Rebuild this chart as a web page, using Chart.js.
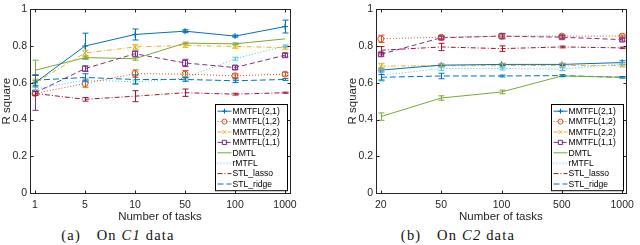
<!DOCTYPE html>
<html>
<head>
<meta charset="utf-8">
<script src="https://cdn.jsdelivr.net/npm/chart.js@4.4.1/dist/chart.umd.min.js"></script>
<style>
  body { margin: 0; background: #fff; width: 640px; height: 245px; position: relative; overflow: hidden; }
  .panel { position: absolute; top: 0; }
  .cap { position: absolute; top: 227px; width: 200px; text-align: center; font-family: "Liberation Serif", "Times New Roman", serif; font-size: 14.5px; letter-spacing: 1.2px; color: #111; white-space: nowrap; }
  .cap i { font-style: italic; }
</style>
</head>
<body>
<canvas id="chartC1" class="panel" width="320" height="225" style="left:0"></canvas>
<canvas id="chartC2" class="panel" width="320" height="225" style="left:320px"></canvas>
<div class="cap" style="left:18px">(a)&emsp;On <i>C1</i> data</div>
<div class="cap" style="left:358px">(b)&emsp;On <i>C2</i> data</div>
<script>
// Data
const tasksC1 = ['1', '5', '10', '50', '100', '1000'];
const tasksC2 = ['20', '50', '100', '500', '1000'];
const yTicks = [0, 0.2, 0.4, 0.6, 0.8, 1];
const seriesNames = ['MMTFL(2,1)', 'MMTFL(1,2)', 'MMTFL(2,2)', 'MMTFL(1,1)', 'DMTL', 'rMTFL', 'STL_lasso', 'STL_ridge'];

// C1 data: mean R square and error bar half-heights
const c1Mmtfl21 = [0.600, 0.800, 0.863, 0.881, 0.854, 0.906];
const c1Mmtfl12 = [0.542, 0.596, 0.650, 0.647, 0.638, 0.647];
const c1Mmtfl22 = [0.600, 0.762, 0.795, 0.803, 0.798, 0.791];
const c1Mmtfl11 = [0.545, 0.677, 0.758, 0.708, 0.683, 0.750];
const c1Dmtl    = [0.668, 0.737, 0.731, 0.816, 0.812, 0.839];
const c1Rmtfl   = [0.565, 0.615, 0.605, 0.625, 0.731, 0.800];
const c1Lasso   = [0.542, 0.510, 0.527, 0.546, 0.538, 0.546];
const c1Ridge   = [0.614, 0.629, 0.618, 0.618, 0.611, 0.618];

const c1ErrMmtfl21 = [0.040, 0.070, 0.030, 0.008, 0.006, 0.035];
const c1ErrMmtfl12 = [0.010, 0.020, 0.020, 0.020, 0.010, 0.010];
const c1ErrMmtfl22 = [0.020, 0.015, 0.012, 0.010, 0.010, 0.008];
const c1ErrMmtfl11 = [0.095, 0.015, 0.015, 0.020, 0.010, 0.010];
const c1ErrDmtl    = [0.055, 0.008, 0.008, 0.005, 0.005, 0];
const c1ErrRmtfl   = [0.010, 0.010, 0.010, 0.010, 0.008, 0.006];
const c1ErrLasso   = [0.010, 0.010, 0.030, 0.020, 0.005, 0.003];
const c1ErrRidge   = [0.030, 0.020, 0.025, 0.010, 0.010, 0.005];

// C2 data
const c2Mmtfl21 = [0.669, 0.696, 0.700, 0.700, 0.710];
const c2Mmtfl12 = [0.839, 0.848, 0.854, 0.854, 0.854];
const c2Mmtfl22 = [0.691, 0.693, 0.693, 0.695, 0.693];
const c2Mmtfl11 = [0.755, 0.845, 0.854, 0.848, 0.835];
const c2Dmtl    = [0.416, 0.517, 0.550, 0.637, 0.630];
const c2Rmtfl   = [0.640, 0.678, 0.678, 0.674, 0.703];
const c2Lasso   = [0.777, 0.795, 0.786, 0.795, 0.790];
const c2Ridge   = [0.630, 0.637, 0.637, 0.639, 0.630];

const c2ErrMmtfl21 = [0.010, 0.006, 0.006, 0.006, 0.010];
const c2ErrMmtfl12 = [0.020, 0.008, 0.010, 0.006, 0.006];
const c2ErrMmtfl22 = [0.015, 0.008, 0.010, 0.008, 0.006];
const c2ErrMmtfl11 = [0.010, 0.008, 0.015, 0.008, 0.008];
const c2ErrDmtl    = [0.020, 0.012, 0.010, 0.004, 0.004];
const c2ErrRmtfl   = [0.030, 0.010, 0.008, 0.008, 0.006];
const c2ErrLasso   = [0.020, 0.020, 0.015, 0.005, 0.004];
const c2ErrRidge   = [0.015, 0.015, 0.005, 0.005, 0.004];

// Styles (MATLAB default colour order)
const seriesColors = ['#0072BD', '#D95319', '#EDB120', '#7E2F8E', '#77AC30', '#4DBEEE', '#A2142F', '#0072BD'];
const seriesDash = [[], [1, 2], [5, 2, 1, 2], [5, 3], [], [1, 2], [5, 2, 1, 2], [6, 3]];
const seriesMarker = ['cross', 'circle', 'crossRot', 'rect', false, false, false, false];

const axisColor = '#262626';
Chart.defaults.font.family = '"Liberation Sans", Arial, sans-serif';
Chart.defaults.color = axisColor;

function buildDatasets(values, errors) {
    return values.map((vals, k) => ({
        label: seriesNames[k],
        data: vals.map((v, i) => ({ x: i, y: v })),
        errors: errors[k],
        borderColor: seriesColors[k],
        backgroundColor: 'rgba(0,0,0,0)',
        borderWidth: 1,
        borderDash: seriesDash[k],
        pointStyle: seriesMarker[k] || 'circle',
        pointRadius: seriesMarker[k] ? (seriesMarker[k] === 'rect' ? 3.5 : 3) : 0,
        pointBorderWidth: 1,
        pointBorderColor: seriesColors[k],
        pointBackgroundColor: 'rgba(0,0,0,0)',
        tension: 0,
        fill: false
    }));
}

// error bars, drawn through the chart scales
const errorBars = {
    id: 'errorBars',
    afterDatasetsDraw(chart) {
        const { ctx, scales: { x, y } } = chart;
        ctx.save();
        ctx.lineWidth = 1;
        ctx.setLineDash([]);
        chart.data.datasets.forEach(ds => {
            if (!ds.errors) return;
            ctx.strokeStyle = ds.borderColor;
            ds.data.forEach((p, i) => {
                const e = ds.errors[i];
                if (!e) return;
                const px = Math.round(x.getPixelForValue(p.x)) + 0.5;
                const yHi = y.getPixelForValue(p.y + e);
                const yLo = y.getPixelForValue(p.y - e);
                ctx.beginPath();
                ctx.moveTo(px, yHi); ctx.lineTo(px, yLo);
                ctx.moveTo(px - 3, yHi); ctx.lineTo(px + 3, yHi);
                ctx.moveTo(px - 3, yLo); ctx.lineTo(px + 3, yLo);
                ctx.stroke();
            });
        });
        ctx.restore();
    }
};

// box with inward ticks + legend inside the axes
const matlabAxes = {
    id: 'matlabAxes',
    afterDraw(chart) {
        const { ctx, chartArea: a, scales: { x, y } } = chart;
        const L = Math.round(a.left) + 0.5, R = Math.round(a.right) + 0.5;
        const T = Math.round(a.top) + 0.5, B = Math.round(a.bottom) + 0.5;
        ctx.save();
        ctx.strokeStyle = axisColor;
        ctx.lineWidth = 1;
        ctx.setLineDash([]);
        ctx.strokeRect(L, T, R - L, B - T);
        ctx.beginPath();
        y.ticks.forEach(t => {
            const py = Math.round(y.getPixelForValue(t.value)) + 0.5;
            ctx.moveTo(L, py); ctx.lineTo(L + 3, py);
            ctx.moveTo(R, py); ctx.lineTo(R - 3, py);
        });
        x.ticks.forEach(t => {
            const px = Math.round(x.getPixelForValue(t.value)) + 0.5;
            ctx.moveTo(px, B); ctx.lineTo(px, B - 3);
            ctx.moveTo(px, T); ctx.lineTo(px, T + 3);
        });
        ctx.stroke();

        // legend
        const rowH = 10.4, w = 72, h = rowH * 8 + 3;
        const x0 = Math.round(R - 4 - w) + 0.5, y0 = Math.round(B - 3 - h) + 0.5;
        ctx.fillStyle = '#fff';
        ctx.fillRect(x0, y0, w, h);
        ctx.strokeStyle = '#000';
        ctx.strokeRect(x0, y0, w, h);
        ctx.font = '8.6px "Liberation Sans", Arial, sans-serif';
        ctx.textBaseline = 'middle';
        chart.data.datasets.forEach((ds, k) => {
            const cy = y0 + 1.5 + rowH * (k + 0.5);
            ctx.strokeStyle = ds.borderColor;
            ctx.setLineDash(ds.borderDash);
            ctx.beginPath();
            ctx.moveTo(x0 + 2, cy); ctx.lineTo(x0 + 16, cy);
            ctx.stroke();
            ctx.setLineDash([]);
            if (ds.pointRadius > 0) {
                ctx.fillStyle = 'rgba(0,0,0,0)';
                Chart.helpers.drawPoint(ctx, { pointStyle: ds.pointStyle, radius: ds.pointRadius - 0.5, borderWidth: 1, rotation: 0 }, x0 + 9, cy);
            }
            ctx.fillStyle = '#000';
            ctx.fillText(ds.label, x0 + 17, cy + 0.5);
        });
        ctx.restore();
    }
};

function makeChart(id, labels, datasets, pad, yWidth, xMin, xMax) {
    return new Chart(document.getElementById(id), {
        type: 'line',
        data: { datasets },
        options: {
            responsive: false,
            animation: false,
            devicePixelRatio: 1,
            layout: { padding: pad },
            plugins: { legend: { display: false }, tooltip: { enabled: false } },
            scales: {
                x: {
                    type: 'linear',
                    min: xMin,
                    max: xMax,
                    afterBuildTicks: s => { s.ticks = labels.map((_, i) => ({ value: i })); },
                    afterFit: s => { s.height = 32; },
                    grid: { display: false, drawTicks: false },
                    border: { display: false },
                    ticks: { padding: 6, font: { size: 10.5 }, color: axisColor, callback: v => labels[v], autoSkip: false, maxRotation: 0 },
                    title: { display: true, text: 'Number of tasks', font: { size: 11.5 }, color: axisColor, padding: { top: 0, bottom: 1 } }
                },
                y: {
                    min: 0,
                    max: 1,
                    afterBuildTicks: s => { s.ticks = yTicks.map(v => ({ value: v })); },
                    afterFit: s => { s.width = yWidth; },
                    grid: { display: false, drawTicks: false },
                    border: { display: false },
                    ticks: { padding: 3, font: { size: 10.5 }, color: axisColor, callback: v => String(v) },
                    title: { display: true, text: 'R square', font: { size: 11.5 }, color: axisColor, padding: { top: 0, bottom: 0 } }
                }
            }
        },
        plugins: [errorBars, matlabAxes]
    });
}

let chartC1 = makeChart('chartC1', tasksC1,
    buildDatasets([c1Mmtfl21, c1Mmtfl12, c1Mmtfl22, c1Mmtfl11, c1Dmtl, c1Rmtfl, c1Lasso, c1Ridge],
                  [c1ErrMmtfl21, c1ErrMmtfl12, c1ErrMmtfl22, c1ErrMmtfl11, c1ErrDmtl, c1ErrRmtfl, c1ErrLasso, c1ErrRidge]),
    { top: 5, right: 30, left: 0, bottom: 0 }, 30, -0.1, 5.1);

let chartC2 = makeChart('chartC2', tasksC2,
    buildDatasets([c2Mmtfl21, c2Mmtfl12, c2Mmtfl22, c2Mmtfl11, c2Dmtl, c2Rmtfl, c2Lasso, c2Ridge],
                  [c2ErrMmtfl21, c2ErrMmtfl12, c2ErrMmtfl22, c2ErrMmtfl11, c2ErrDmtl, c2ErrRmtfl, c2ErrLasso, c2ErrRidge]),
    { top: 5, right: 9, left: 26, bottom: 0 }, 30, -0.08, 4.06);
</script>
</body>
</html>
